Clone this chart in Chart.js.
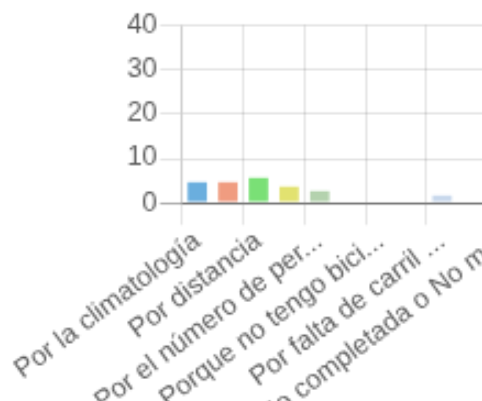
<!DOCTYPE html>
<html>
<head>
<meta charset="utf-8">
<script src="https://cdn.jsdelivr.net/npm/chart.js@4"></script>
<style>
    html, body { margin: 0; padding: 0; background: #fff; overflow: hidden; }
    #frame { width: 482px; height: 401px; overflow: hidden; position: relative; }
    #zoom { position: absolute; left: 0; top: 0; transform: scale(2.2); transform-origin: 0 0; }
</style>
</head>
<body>
<div id="frame">
    <div id="zoom">
        <canvas id="motivos" width="280" height="200"></canvas>
    </div>
</div>
<script>
// categories (odd ones are hidden by the axis, every second label is shown)
const labels = [
    'Por la climatología',
    'Por seguridad',
    'Por distancia',
    'Por comodidad',
    'Por el número de per...',
    'Por el tráfico',
    'Porque no tengo bici...',
    'Por la pendiente',
    'Por falta de carril ...',
    'Por falta de aparca...',
    'No completada o No m...',
    'Otros'
]
const respuestas = [5, 5, 6, 4, 3, 0, 0, 0, 2, 0, 0, 0]
const colores = [
    'rgb(106, 174, 222)',
    'rgb(240, 156, 128)',
    'rgb(122, 224, 118)',
    'rgb(226, 226, 112)',
    'rgb(180, 210, 174)',
    'rgb(190, 160, 220)',
    'rgb(240, 190, 120)',
    'rgb(150, 200, 220)',
    'rgb(200, 216, 236)',
    'rgb(230, 180, 200)',
    'rgb(170, 200, 150)',
    'rgb(200, 200, 200)'
]
const yTicks = [0, 10, 20, 30, 40]

const grid = 'rgba(0, 0, 0, 0.1)'
const zero = 'rgba(0, 0, 0, 0.3)'
const textColor = '#5c5c5c'

const ctx = document.getElementById('motivos')
const chart = new Chart(ctx, {
    type: 'bar',
    data: {
        labels: labels,
        datasets: [{
            label: 'Respuestas',
            data: respuestas,
            backgroundColor: colores,
            borderColor: 'rgba(255, 255, 255, 0.35)',
            borderWidth: 0.6,
        }],
    },
    options: {
        responsive: false,
        animation: false,
        devicePixelRatio: 1,
        layout: { padding: { top: 11.4, right: 30.4, left: 0, bottom: 0 } },
        plugins: {
            legend: { display: false },
            tooltip: { enabled: false },
        },
        scales: {
            x: {
                offset: true,
                grid: {
                    offset: true,
                    color: (c) => (c.index % 2 === 0 ? grid : 'transparent'),
                    lineWidth: 1,
                    tickLength: 10,
                },
                border: { color: zero },
                ticks: {
                    autoSkip: false,
                    minRotation: 37,
                    maxRotation: 37,
                    padding: 0,
                    color: textColor,
                    font: { family: 'Liberation Sans', size: 12.4 },
                    callback: (v, i) => (i % 2 === 0 ? labels[i] : ''),
                },
                afterFit: (s) => { s.height = 107.7 },
            },
            y: {
                min: yTicks[0],
                max: yTicks[yTicks.length - 1],
                grid: {
                    color: (c) => (c.tick && c.tick.value === 0 ? zero : grid),
                    lineWidth: 1,
                    tickLength: 10,
                },
                border: { color: grid },
                ticks: {
                    stepSize: 10,
                    padding: 1.2,
                    color: textColor,
                    font: { family: 'Liberation Sans', size: 12.4 },
                },
                afterFit: (s) => { s.width = 82.7 },
            },
        },
    },
})
</script>
</body>
</html>
